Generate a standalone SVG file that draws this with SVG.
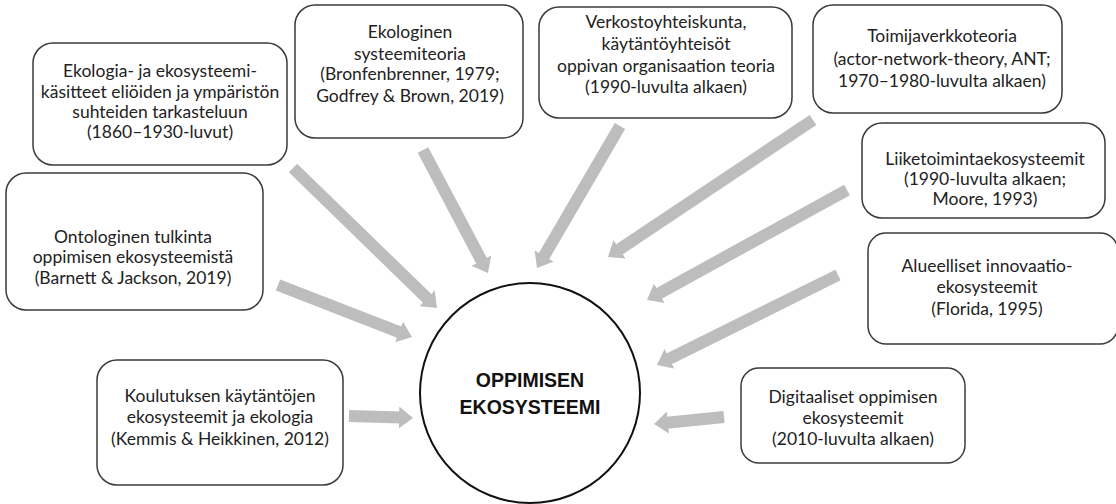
<svg xmlns="http://www.w3.org/2000/svg" width="1116" height="504" viewBox="0 0 1116 504">
<style>
.box{fill:#fff;stroke:#3a3a3a;stroke-width:1.5}
.t{font-family:Lato,"Open Sans","Liberation Sans",sans-serif;font-size:17.5px;fill:#222;text-anchor:middle}
.c{font-family:"Liberation Sans",Arial,sans-serif;font-size:19.5px;font-weight:bold;fill:#111;text-anchor:middle}
.a{stroke:#bdbdbd;stroke-width:12;fill:none;marker-end:url(#h)}
</style>
<defs>
<marker id="h" markerUnits="userSpaceOnUse" markerWidth="16" markerHeight="22" viewBox="0 0 16 22" refX="1" refY="11" orient="auto">
<path d="M0,0 L14,11 L0,22 z" fill="#bdbdbd"/>
</marker>
</defs>
<rect width="1116" height="504" fill="#fff"/>
<g id="connectors">
<line class="a" x1="293" y1="168" x2="427.7" y2="298.9"/>
<line class="a" x1="423" y1="150" x2="481.9" y2="261.5"/>
<line class="a" x1="620" y1="126" x2="543.6" y2="256.8"/>
<line class="a" x1="813" y1="120" x2="618.8" y2="249.8"/>
<line class="a" x1="847" y1="190" x2="658.4" y2="293.7"/>
<line class="a" x1="838" y1="275" x2="668.6" y2="359.2"/>
<line class="a" x1="724" y1="417" x2="666.9" y2="422.7"/>
<line class="a" x1="349" y1="416" x2="400" y2="417.6"/>
<line class="a" x1="278" y1="285" x2="399.9" y2="332.3"/>
</g>
<g id="center">
<circle cx="530" cy="393" r="110" fill="#fff" stroke="#111" stroke-width="2"/>
<text class="c" x="530" y="387">OPPIMISEN</text>
<text class="c" x="530" y="414">EKOSYSTEEMI</text>
</g>
<g id="n1">
<rect class="box" x="33" y="43" width="254" height="122" rx="20"/>
<text class="t" x="160" y="77">Ekologia- ja ekosysteemi-</text>
<text class="t" x="160" y="98">käsitteet eliöiden ja ympäristön</text>
<text class="t" x="160" y="118">suhteiden tarkasteluun</text>
<text class="t" x="160" y="138">(1860–1930-luvut)</text>
</g>
<g id="n2">
<rect class="box" x="295" y="5" width="228" height="133" rx="20"/>
<text class="t" x="410" y="38">Ekologinen</text>
<text class="t" x="410" y="60">systeemiteoria</text>
<text class="t" x="410" y="80">(Bronfenbrenner, 1979;</text>
<text class="t" x="410" y="102">Godfrey &amp; Brown, 2019)</text>
</g>
<g id="n3">
<rect class="box" x="539" y="7" width="253" height="111" rx="20"/>
<text class="t" x="666" y="28">Verkostoyhteiskunta,</text>
<text class="t" x="666" y="50">käytäntöyhteisöt</text>
<text class="t" x="666" y="72">oppivan organisaation teoria</text>
<text class="t" x="666" y="93">(1990-luvulta alkaen)</text>
</g>
<g id="n4">
<rect class="box" x="813" y="5" width="249" height="108" rx="20"/>
<text class="t" x="942" y="42">Toimijaverkkoteoria</text>
<text class="t" x="942" y="65">(actor-network-theory, ANT;</text>
<text class="t" x="942" y="87">1970–1980-luvulta alkaen)</text>
</g>
<g id="n5">
<rect class="box" x="862" y="123" width="243" height="95" rx="20"/>
<text class="t" x="985" y="165">Liiketoimintaekosysteemit</text>
<text class="t" x="985" y="185">(1990-luvulta alkaen;</text>
<text class="t" x="985" y="205">Moore, 1993)</text>
</g>
<g id="n6">
<rect class="box" x="868" y="233" width="250" height="111" rx="18"/>
<text class="t" x="987" y="272">Alueelliset innovaatio-</text>
<text class="t" x="987" y="293">ekosysteemit</text>
<text class="t" x="987" y="315">(Florida, 1995)</text>
</g>
<g id="n7">
<rect class="box" x="6" y="173" width="257" height="137" rx="20"/>
<text class="t" x="133" y="243">Ontologinen tulkinta</text>
<text class="t" x="133" y="263">oppimisen ekosysteemistä</text>
<text class="t" x="133" y="284">(Barnett &amp; Jackson, 2019)</text>
</g>
<g id="n8">
<rect class="box" x="97" y="360" width="246" height="125" rx="20"/>
<text class="t" x="220" y="402">Koulutuksen käytäntöjen</text>
<text class="t" x="220" y="423">ekosysteemit ja ekologia</text>
<text class="t" x="220" y="445">(Kemmis &amp; Heikkinen, 2012)</text>
</g>
<g id="n9">
<rect class="box" x="741" y="368" width="224" height="95" rx="18"/>
<text class="t" x="853" y="403">Digitaaliset oppimisen</text>
<text class="t" x="853" y="424">ekosysteemit</text>
<text class="t" x="853" y="445">(2010-luvulta alkaen)</text>
</g>
</svg>
